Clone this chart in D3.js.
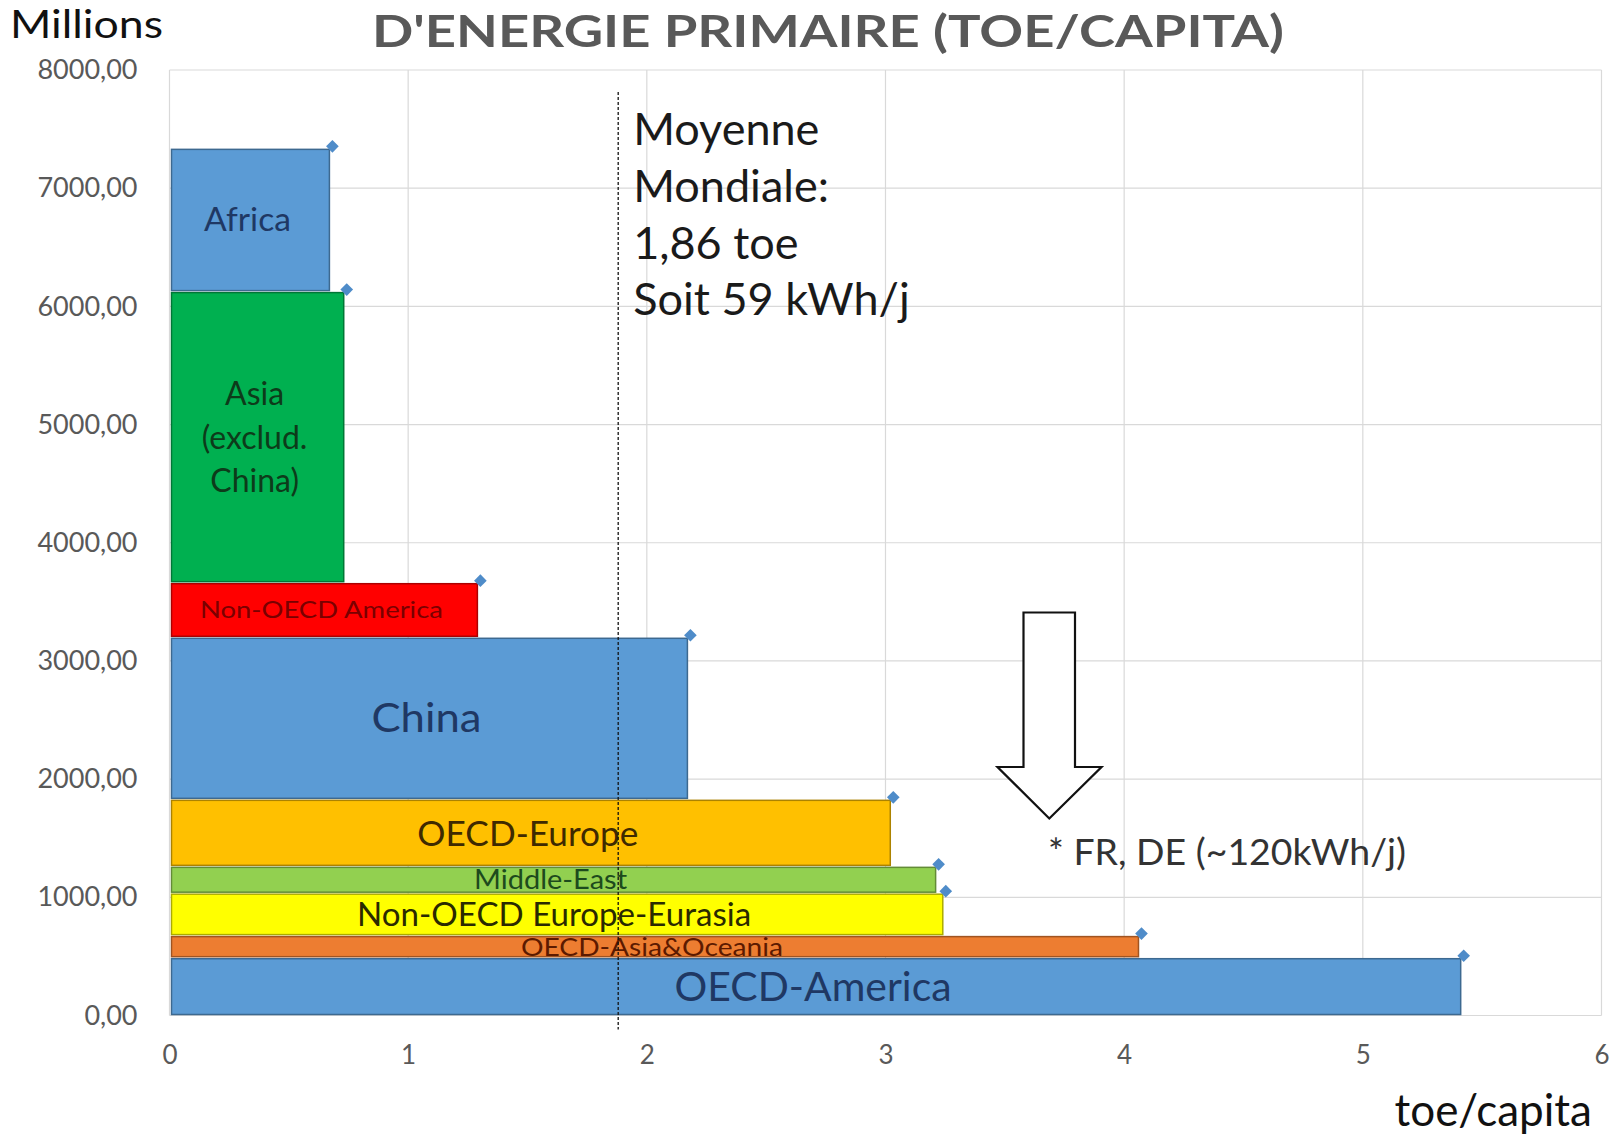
<!DOCTYPE html>
<html>
<head>
<meta charset="utf-8">
<script src="https://cdn.jsdelivr.net/npm/d3@7"></script>
<style>
  html, body { margin: 0; padding: 0; background: #ffffff; }
  svg { display: block; }
  text { font-family: Lato, "Open Sans", sans-serif; }
</style>
</head>
<body>
<svg id="chart" width="1621" height="1134"></svg>
<script>
// ---- data ----
const regions = ["OECD-America", "OECD-Asia&Oceania", "Non-OECD Europe-Eurasia", "Middle-East",
                 "OECD-Europe", "China", "Non-OECD America", "Asia (exclud. China)", "Africa"];
const toePerCapita = [5.41, 4.06, 3.24, 3.21, 3.02, 2.17, 1.29, 0.73, 0.67];
const populationM = [489, 187, 359, 227, 567, 1371, 462, 2463, 1212];
const barColors = ["#5b9bd5", "#ed7d31", "#ffff00", "#92d050", "#ffc000", "#5b9bd5", "#ff0000", "#00b050", "#5b9bd5"];
const labelColors = ["#1f3864", "#5c1a00", "#2a2a00", "#1d4a1d", "#3f2a00", "#1f3864", "#7a0000", "#0d3b1a", "#1f3864"];
const labelLines = [["OECD-America"], ["OECD-Asia&Oceania"], ["Non-OECD Europe-Eurasia"], ["Middle-East"],
                    ["OECD-Europe"], ["China"], ["Non-OECD America"], ["Asia", "(exclud.", "China)"], ["Africa"]];
const labelSizes = [40, 25, 33, 26, 35, 40, 24, 32, 32];
const labelWidths = [277, 262, 394, 153, 221, 110, 243, 0, 87];
const xTicks = [0, 1, 2, 3, 4, 5, 6];
const yTicks = [0, 1000, 2000, 3000, 4000, 5000, 6000, 7000, 8000];
const worldMean = 1.88;
const meanText = ["Moyenne", "Mondiale:", "1,86 toe", "Soit 59 kWh/j"];
const title = "D'ENERGIE PRIMAIRE (TOE/CAPITA)";
const noteText = "* FR, DE (~120kWh/j)";

// ---- layout ----
const svg = d3.select("#chart");
const x = d3.scaleLinear().domain([0, 6]).range([169.5, 1601.5]);
const y = d3.scaleLinear().domain([0, 8000]).range([1015.5, 70]);
const frLocale = d3.formatLocale({decimal: ",", thousands: "", grouping: [3], currency: ["", "€"]});
const fmt = frLocale.format(".2f");

const cum = Array.from(d3.cumsum(populationM));
const bars = regions.map((r, i) => ({
  name: r, toe: toePerCapita[i], pop: populationM[i],
  top: cum[i], bottom: cum[i] - populationM[i],
  color: barColors[i], lc: labelColors[i], lines: labelLines[i], size: labelSizes[i], w: labelWidths[i]
}));

// gridlines
const grid = svg.append("g");
grid.selectAll("line.v").data(xTicks).join("line")
  .attr("x1", d => x(d)).attr("x2", d => x(d))
  .attr("y1", y(8000)).attr("y2", y(0))
  .attr("stroke", "#d9d9d9").attr("stroke-width", 1.2);
grid.selectAll("line.h").data(yTicks).join("line")
  .attr("x1", x(0)).attr("x2", x(6))
  .attr("y1", d => y(d)).attr("y2", d => y(d))
  .attr("stroke", "#d9d9d9").attr("stroke-width", 1.2);

// axes labels via d3 axes
const yAxis = svg.append("g").attr("transform", `translate(${x(0)},0)`)
  .call(d3.axisLeft(y).tickValues(yTicks).tickFormat(fmt).tickSize(0).tickPadding(32));
yAxis.select(".domain").remove();
yAxis.selectAll("text").attr("font-size", 27).attr("fill", "#595959")
  .attr("font-family", "Lato, sans-serif");

const xAxis = svg.append("g").attr("transform", `translate(0,${y(0)})`)
  .call(d3.axisBottom(x).tickValues(xTicks).tickFormat(d3.format("d")).tickSize(0).tickPadding(30));
xAxis.select(".domain").remove();
xAxis.selectAll("text").attr("font-size", 26).attr("fill", "#595959")
  .attr("font-family", "Lato, sans-serif");

// bars
const barG = svg.append("g");
barG.selectAll("rect").data(bars).join("rect")
  .attr("x", x(0) + 2)
  .attr("y", d => y(d.top) + 1)
  .attr("width", d => x(d.toe) - x(0) - 2)
  .attr("height", d => y(d.bottom) - y(d.top) - 2)
  .attr("fill", d => d.color)
  .attr("stroke", d => d3.color(d.color).darker(1.1))
  .attr("stroke-width", 1.5);

// markers (diamonds at top-right corners)
svg.append("g").selectAll("path").data(bars).join("path")
  .attr("d", d3.symbol(d3.symbolSquare, 80))
  .attr("transform", d => `translate(${x(d.toe) + 3},${y(d.top) - 2}) rotate(45)`)
  .attr("fill", "#4f8cc9");

// bar labels
const lab = svg.append("g");
bars.forEach(d => {
  const cx = (x(0) + x(d.toe)) / 2 - 2;
  const cy = (y(d.top) + y(d.bottom)) / 2;
  const lh = d.size * 1.35;
  d.lines.forEach((ln, k) => {
    const t = lab.append("text")
      .attr("x", cx)
      .attr("y", cy + (k - (d.lines.length - 1) / 2) * lh - 1)
      .attr("text-anchor", "middle")
      .attr("dominant-baseline", "central")
      .attr("font-size", d.size)
      .attr("fill", d.lc)
      .text(ln);
    if (d.w > 0) t.attr("textLength", d.w).attr("lengthAdjust", "spacingAndGlyphs");
  });
});

// world mean line
svg.append("line")
  .attr("x1", x(worldMean)).attr("x2", x(worldMean))
  .attr("y1", y(8000) + 22).attr("y2", y(0) + 14)
  .attr("stroke", "#111").attr("stroke-width", 1.3)
  .attr("stroke-dasharray", "3,2");

svg.append("g").selectAll("text").data(meanText).join("text")
  .attr("x", x(worldMean) + 15)
  .attr("y", (d, i) => 145 + i * 56.8)
  .attr("font-size", 45)
  .attr("fill", "#1a1a1a")
  .text(d => d);

// hollow arrow
svg.append("path")
  .attr("d", "M1023.5,612.5 L1075,612.5 L1075,767 L1101.5,767 L1049.3,818.5 L997.5,767 L1023.5,767 Z")
  .attr("fill", "#ffffff").attr("stroke", "#111").attr("stroke-width", 2.2)
  .attr("stroke-linejoin", "miter");

svg.append("text")
  .attr("x", 1048).attr("y", 865)
  .attr("font-size", 36).attr("fill", "#333333")
  .attr("textLength", 358).attr("lengthAdjust", "spacingAndGlyphs")
  .text(noteText);

// title
svg.append("text")
  .attr("x", 372).attr("y", 47)
  .attr("font-family", "'Open Sans', sans-serif")
  .attr("font-weight", 700)
  .attr("font-size", 44)
  .attr("fill", "#595959")
  .attr("textLength", 912).attr("lengthAdjust", "spacingAndGlyphs")
  .text(title);

// axis titles
svg.append("text")
  .attr("x", 10).attr("y", 38)
  .attr("font-size", 38).attr("fill", "#111")
  .attr("textLength", 153).attr("lengthAdjust", "spacingAndGlyphs")
  .text("Millions");

svg.append("text")
  .attr("x", 1592).attr("y", 1126)
  .attr("text-anchor", "end")
  .attr("font-size", 44).attr("fill", "#111")
  .text("toe/capita");
</script>
</body>
</html>
